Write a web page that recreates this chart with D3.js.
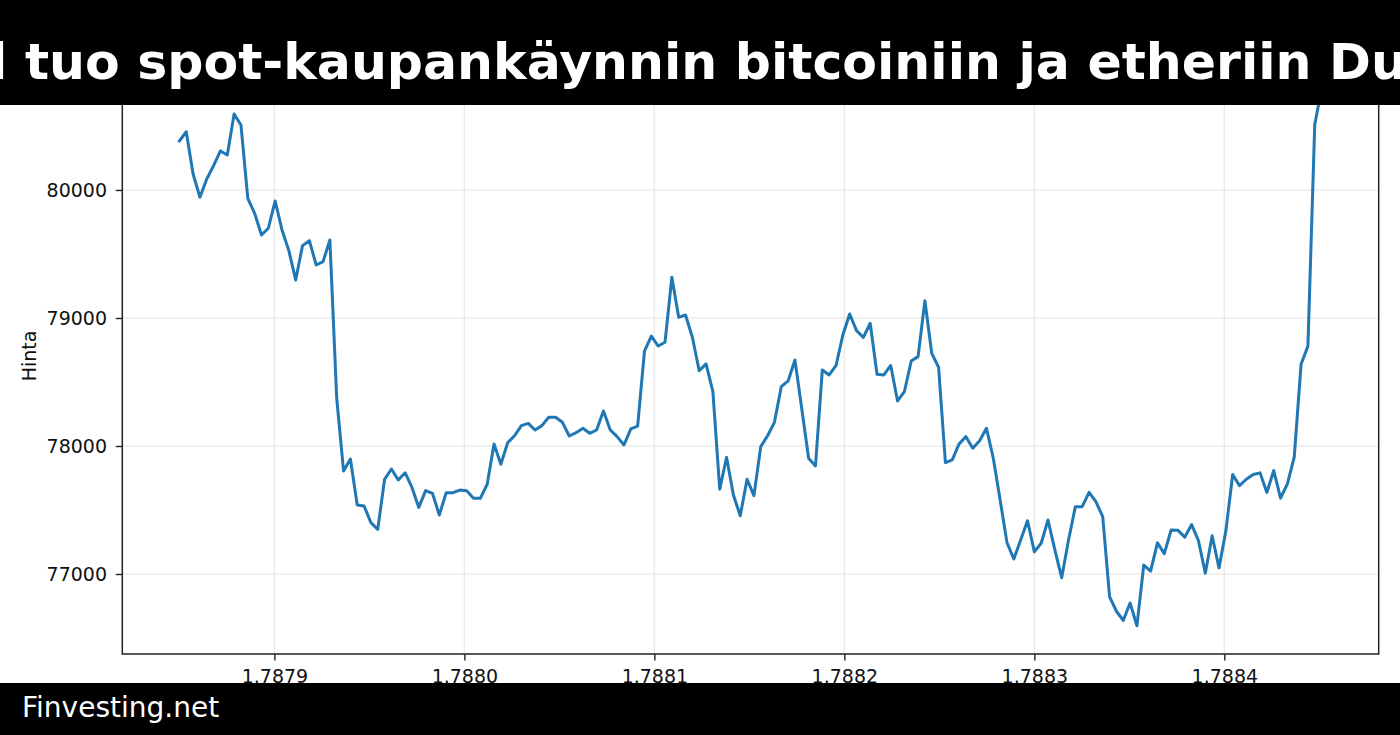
<!DOCTYPE html>
<html>
<head>
<meta charset="utf-8">
<script src="https://cdn.jsdelivr.net/npm/d3@7"></script>
<style>
  html, body { margin: 0; padding: 0; background: #fff; }
  svg { display: block; }
</style>
</head>
<body>
<svg id="chart" width="1400" height="735"></svg>
<script>
// ---- data ----
const titleText = "l tuo spot-kaupankäynnin bitcoiniin ja etheriin Du";
const footerText = "Finvesting.net";
const yLabel = "Hinta";
// hourly timestamps (seconds), shown on the axis in units of 1e9
const startTimestamp = 1787850000;
const stepSeconds = 3600;
const prices = [
  80383, 80455, 80125, 79943, 80086, 80190, 80305, 80273, 80594, 80508,
  79935, 79818, 79648, 79701, 79914, 79688, 79526, 79297, 79565, 79604,
  79414, 79440, 79609, 78373, 77805, 77898, 77539, 77531, 77401, 77349,
  77740, 77820, 77734, 77791, 77676, 77520, 77651, 77630, 77461, 77635,
  77635, 77656, 77651, 77591, 77591, 77701, 78016, 77857, 78026, 78080,
  78159, 78177, 78125, 78159, 78224, 78224, 78185, 78078, 78104, 78138,
  78099, 78125, 78273, 78125, 78073, 78008, 78133, 78156, 78742, 78859,
  78781, 78810, 79318, 79005, 79023, 78849, 78588, 78641, 78424, 77662,
  77912, 77617, 77455, 77740, 77612, 77995, 78080, 78185, 78463, 78508,
  78672, 78289, 77904, 77844, 78594, 78555, 78627, 78867, 79031, 78901,
  78849, 78959, 78560, 78555, 78629, 78352, 78424, 78664, 78698, 79135,
  78724, 78615, 77870, 77891, 78016, 78073, 77982, 78041, 78138, 77904,
  77578, 77245, 77117, 77266, 77416, 77174, 77240, 77422, 77188, 76971,
  77266, 77526, 77526, 77638, 77565, 77448, 76824, 76709, 76637, 76773,
  76596, 77070, 77023, 77243, 77159, 77344, 77341, 77288, 77386, 77260,
  77006, 77299, 77048, 77335, 77777, 77690, 77740, 77777, 77790, 77637,
  77809, 77592, 77704, 77913, 78638, 78780, 80511, 80790
];
const xTicks = [1.7879, 1.7880, 1.7881, 1.7882, 1.7883, 1.7884];
const xTickLabels = ["1.7879", "1.7880", "1.7881", "1.7882", "1.7883", "1.7884"];
const yTicks = [77000, 78000, 79000, 80000, 81000];
const yTickLabels = ["77000", "78000", "79000", "80000", "81000"];

const series = prices.map((p, i) => ({ x: (startTimestamp + i * stepSeconds) / 1e9, y: p }));

// ---- layout ----
const W = 1400, H = 735;
const plot = { left: 122.3, right: 1378.7, top: 58, bottom: 654 };
const svg = d3.select("#chart");

// x domain with matplotlib-like 5% margins
const xExt = d3.extent(series, d => d.x);
const xPad = (xExt[1] - xExt[0]) * 0.05;
const x = d3.scaleLinear().domain([xExt[0] - xPad, xExt[1] + xPad]).range([plot.left, plot.right]);
const y = d3.scaleLinear().domain([76375, 81031]).range([plot.bottom, plot.top]);

svg.append("rect").attr("width", W).attr("height", H).attr("fill", "#fff");

const FONT = "'DejaVu Sans', sans-serif";

// grid
const grid = svg.append("g");
grid.selectAll("line.gx").data(xTicks).join("line")
  .attr("x1", d => x(d)).attr("x2", d => x(d))
  .attr("y1", plot.top).attr("y2", plot.bottom)
  .attr("stroke", "#ebebeb").attr("stroke-width", 1.5);
grid.selectAll("line.gy").data(yTicks).join("line")
  .attr("x1", plot.left).attr("x2", plot.right)
  .attr("y1", d => y(d)).attr("y2", d => y(d))
  .attr("stroke", "#ebebeb").attr("stroke-width", 1.5);

// line
const line = d3.line().x(d => x(d.x)).y(d => y(d.y));
svg.append("path").datum(series)
  .attr("d", line)
  .attr("fill", "none")
  .attr("stroke", "#1f77b4")
  .attr("stroke-width", 3)
  .attr("stroke-linejoin", "round")
  .attr("stroke-linecap", "square");

// axes
const xAxis = d3.axisBottom(x).tickValues(xTicks)
  .tickFormat((d, i) => xTickLabels[i]).tickSize(6.5).tickPadding(9).tickSizeOuter(0);
const yAxis = d3.axisLeft(y).tickValues(yTicks)
  .tickFormat((d, i) => yTickLabels[i]).tickSize(6.5).tickPadding(8.8).tickSizeOuter(0);

const gx = svg.append("g").attr("transform", `translate(0,${plot.bottom})`).call(xAxis);
const gy = svg.append("g").attr("transform", `translate(${plot.left},0)`).call(yAxis);
[gx, gy].forEach(g => {
  g.select(".domain").remove();
  g.selectAll(".tick line").attr("stroke", "#222").attr("stroke-width", 1.4);
  g.selectAll(".tick text").attr("fill", "#111").attr("font-family", FONT).attr("font-size", 19);
});

// spines
svg.append("rect")
  .attr("x", plot.left).attr("y", plot.top)
  .attr("width", plot.right - plot.left).attr("height", plot.bottom - plot.top)
  .attr("fill", "none").attr("stroke", "#222").attr("stroke-width", 1.5);

// y label
svg.append("text")
  .attr("transform", `translate(36,${(plot.top + plot.bottom) / 2}) rotate(-90)`)
  .attr("text-anchor", "middle")
  .attr("font-family", FONT).attr("font-size", 19).attr("fill", "#111")
  .text(yLabel);

// title bar
svg.append("rect").attr("x", 0).attr("y", 0).attr("width", W).attr("height", 105).attr("fill", "#000");
svg.append("text")
  .attr("x", -10).attr("y", 79)
  .attr("font-family", FONT).attr("font-weight", "bold").attr("font-size", 50.5)
  .attr("fill", "#fff")
  .text(titleText);

// footer bar
svg.append("rect").attr("x", 0).attr("y", 683).attr("width", W).attr("height", H - 683).attr("fill", "#000");
svg.append("text")
  .attr("x", 22).attr("y", 717)
  .attr("font-family", FONT).attr("font-size", 28)
  .attr("fill", "#fff")
  .text(footerText);
</script>
</body>
</html>
